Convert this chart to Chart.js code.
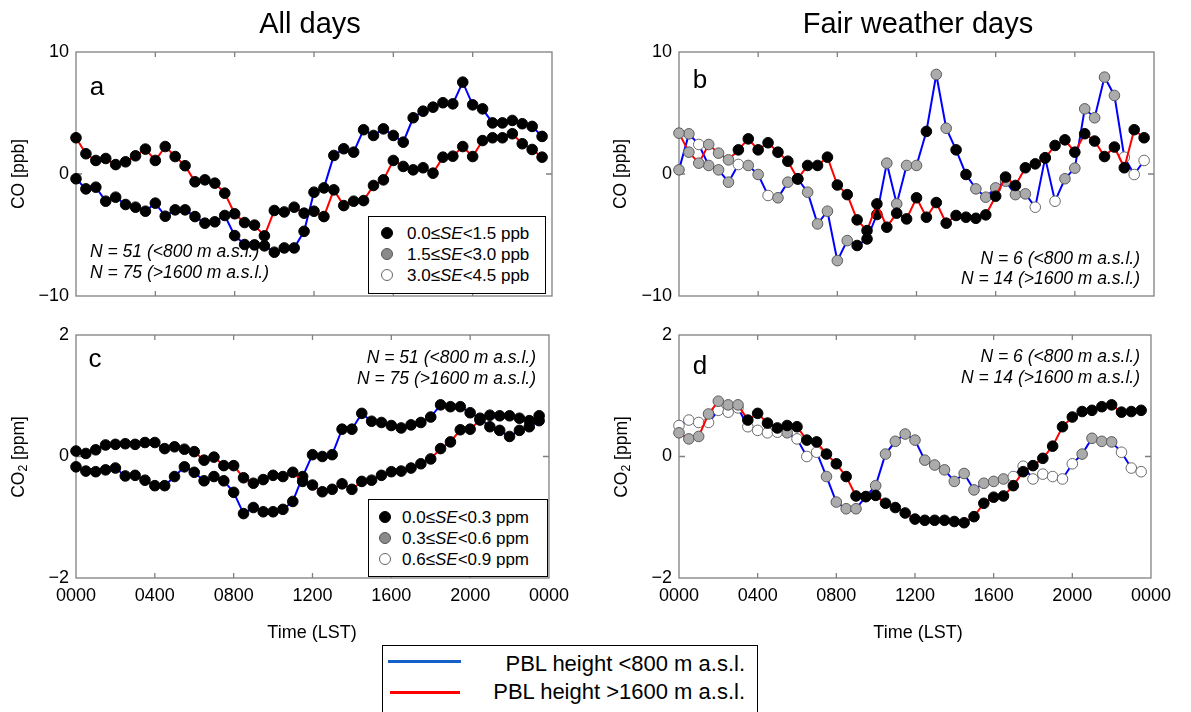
<!DOCTYPE html>
<html>
<head>
<meta charset="utf-8">
<script src="https://cdn.jsdelivr.net/npm/chart.js"></script>
<style>
  body { margin: 0; width: 1191px; height: 712px; overflow: hidden; position: relative; background: #fff;
         font-family: "Liberation Sans", Arial, Helvetica, sans-serif; }
  canvas { position: absolute; }
  .txt { position: absolute; white-space: nowrap; line-height: 1; color: #000; }
  .dot { position: absolute; width: 10px; height: 10px; border-radius: 50%; transform: translate(-50%, -50%); }
  .box { position: absolute; border: 1px solid #000; background: #fff; }
</style>
</head>
<body>
<canvas id="pa" width="576" height="284" style="left:0px;top:32px"></canvas>
<canvas id="pb" width="575" height="284" style="left:603px;top:32px"></canvas>
<canvas id="pc" width="576" height="335" style="left:0px;top:315px"></canvas>
<canvas id="pd" width="575" height="335" style="left:603px;top:315px"></canvas>
<script>
const FONT = '"Liberation Sans", Arial, Helvetica, sans-serif';

// half-hourly time of day (hours)
const hours = [0,0.5,1,1.5,2,2.5,3,3.5,4,4.5,5,5.5,6,6.5,7,7.5,8,8.5,9,9.5,10,10.5,11,11.5,
               12,12.5,13,13.5,14,14.5,15,15.5,16,16.5,17,17.5,18,18.5,19,19.5,20,20.5,21,21.5,22,22.5,23,23.5];
const xTickHours = [0, 4, 8, 12, 16, 20, 24];
const xTickLabels = ['0000', '0400', '0800', '1200', '1600', '2000', '0000'];
const coTicks = [-10, 0, 10];
const co2Ticks = [-2, 0, 2];

// All days, CO [ppb]
const coLowAll = [-0.39,-1.22,-1.08,-2.23,-1.90,-2.50,-2.72,-3.05,-2.39,-3.46,-2.94,-2.94,
                  -3.49,-4.03,-3.92,-3.40,-5.05,-5.78,-5.81,-5.89,-6.41,-6.06,-6.06,-4.70,
                  -1.49,-1.14,1.52,2.07,1.79,3.63,3.16,3.70,3.16,2.61,4.61,5.15,
                  5.48,5.84,5.75,7.53,5.67,5.34,4.19,4.19,4.39,4.12,3.90,3.08];
const coHighAll = [2.97,1.66,1.11,1.27,0.77,1.00,1.49,2.04,1.11,2.25,1.43,0.68,
                   -0.64,-0.48,-0.75,-1.57,-3.26,-3.98,-4.19,-5.07,-2.99,-3.11,-2.72,-3.21,
                   -3.05,-3.49,-1.30,-2.59,-2.23,-2.18,-0.94,-0.48,1.11,0.62,0.34,0.51,
                   0.07,1.38,1.46,2.25,1.43,2.74,2.97,2.97,3.30,2.48,2.01,1.38];

// All days, CO2 [ppm]
const co2LowAll = [-0.17,-0.24,-0.25,-0.22,-0.19,-0.32,-0.31,-0.39,-0.48,-0.48,-0.33,-0.17,
                   -0.26,-0.40,-0.33,-0.40,-0.59,-0.94,-0.84,-0.91,-0.91,-0.87,-0.74,-0.33,
                   0.03,0.00,0.03,0.45,0.45,0.71,0.58,0.56,0.51,0.47,0.52,0.56,
                   0.65,0.85,0.82,0.82,0.72,0.63,0.49,0.43,0.33,0.43,0.49,0.59];
const co2HighAll = [0.09,0.05,0.11,0.19,0.20,0.21,0.20,0.23,0.23,0.13,0.16,0.12,
                    0.08,-0.06,-0.01,-0.15,-0.15,-0.35,-0.44,-0.38,-0.31,-0.33,-0.26,-0.41,
                    -0.47,-0.58,-0.54,-0.45,-0.54,-0.41,-0.39,-0.31,-0.25,-0.24,-0.19,-0.12,
                    -0.04,0.13,0.24,0.44,0.45,0.60,0.68,0.67,0.67,0.63,0.59,0.67];

// Fair weather days, CO [ppb]
const coLowFair = [0.34,3.29,2.42,0.70,0.34,-0.67,0.78,0.70,-0.04,-1.76,-1.95,-0.67,
                   -0.40,-1.49,-4.09,-3.05,-7.10,-5.46,-5.86,-5.32,-3.32,0.89,-2.45,0.70,
                   0.70,3.49,8.16,3.75,1.98,-0.04,-1.22,-1.90,-1.14,-0.59,-1.69,-1.63,
                   -2.72,1.32,-2.23,-0.39,0.48,5.34,4.61,7.94,6.44,1.38,-0.04,1.11];
const coHighFair = [3.35,1.79,0.89,2.42,1.71,1.16,1.98,2.88,1.98,2.56,1.79,1.05,
                    -0.40,0.70,0.70,1.38,-0.90,-1.69,-3.76,-4.64,-2.45,-4.36,-3.21,-3.68,
                    -1.95,-3.54,-2.34,-4.03,-3.40,-3.54,-3.63,-3.35,-1.82,-0.25,-0.94,0.51,
                    0.83,1.32,2.34,2.80,1.79,3.30,2.70,1.43,2.21,0.51,3.63,2.97];
// SE class: 0 = low (black), 1 = mid (grey), 2 = high (white)
const seCoLowFair = [1,1,2,1,1,1,2,1,1,2,1,1, 0,1,1,1,1,1,0,0,0,1,1,1,
                     1,0,1,1,0,0,1,1,1,1,1,1, 2,0,2,1,1,1,1,1,1,2,2,2];
const seCoHighFair = [1,1,1,1,1,1,0,0,0,0,0,0, 0,0,0,0,0,0,0,0,0,0,0,0,
                      0,0,0,0,0,0,0,0,0,0,0,0, 0,0,0,0,0,0,0,0,0,0,0,0];

// Fair weather days, CO2 [ppm]
const co2LowFair = [0.51,0.60,0.56,0.56,0.76,0.73,0.80,0.49,0.43,0.39,0.40,0.39,
                    0.29,0.00,0.07,-0.33,-0.75,-0.86,-0.86,-0.66,-0.48,0.04,0.25,0.37,
                    0.27,-0.06,-0.14,-0.22,-0.41,-0.28,-0.55,-0.44,-0.41,-0.37,-0.33,-0.16,
                    -0.37,-0.29,-0.33,-0.37,-0.12,0.04,0.30,0.25,0.24,0.07,-0.19,-0.25];
const co2HighFair = [0.39,0.29,0.33,0.70,0.91,0.85,0.85,0.60,0.71,0.55,0.47,0.51,
                     0.49,0.27,0.24,0.04,-0.12,-0.33,-0.65,-0.66,-0.64,-0.77,-0.84,-0.93,
                     -1.03,-1.05,-1.05,-1.05,-1.07,-1.09,-0.99,-0.77,-0.67,-0.65,-0.48,-0.25,
                     -0.15,-0.03,0.17,0.49,0.65,0.74,0.76,0.82,0.85,0.73,0.74,0.76];
const seCo2LowFair = [2,2,2,2,2,2,2,2,2,2,2,1, 2,2,2,1,1,1,1,1,1,1,1,1,
                      1,1,1,1,1,1,1,1,1,1,2,2, 2,2,2,2,2,1,1,1,1,2,2,2];
const seCo2HighFair = [1,1,1,1,1,1,1,0,0,0,0,0, 0,0,0,0,0,0,0,0,0,0,0,0,
                       0,0,0,0,0,0,0,0,0,0,0,0, 0,0,0,0,0,0,0,0,0,0,0,0];

const allBlack = new Array(hours.length).fill(0);

const dotFill = ['#000000', '#ababab', '#ffffff'];
const dotEdge = ['#000000', '#5a5a5a', '#6a6a6a'];

function series(values, se, color) {
  return {
    data: values.map((v, i) => ({ x: hours[i], y: v })),
    showLine: true,
    borderColor: color,
    borderWidth: 2,
    pointRadius: 5.3,
    pointBackgroundColor: se.map(k => dotFill[k]),
    pointBorderColor: se.map(k => dotEdge[k]),
    pointBorderWidth: 1,
    clip: false
  };
}

// box around the plot plus short inward ticks, like the original figure
const framePlugin = {
  id: 'frame',
  beforeDatasetsDraw(chart) {
    const { ctx, chartArea: a, scales: { x, y } } = chart;
    ctx.save();
    ctx.strokeStyle = '#808080';
    ctx.lineWidth = 1.3;
    ctx.strokeRect(a.left, a.top, a.right - a.left, a.bottom - a.top);
    ctx.beginPath();
    xTickHours.slice(1, -1).forEach(h => {
      const px = x.getPixelForValue(h);
      ctx.moveTo(px, a.bottom); ctx.lineTo(px, a.bottom - 5);
      ctx.moveTo(px, a.top); ctx.lineTo(px, a.top + 5);
    });
    const py = y.getPixelForValue(0);
    ctx.moveTo(a.left, py); ctx.lineTo(a.left + 6, py);
    ctx.moveTo(a.right, py); ctx.lineTo(a.right - 6, py);
    ctx.stroke();
    ctx.restore();
  }
};

function makePanel(id, low, lowSe, high, highSe, yTicks, bottomRow) {
  new Chart(document.getElementById(id), {
    type: 'scatter',
    data: { datasets: [series(high, highSe, '#ff0000'), series(low, lowSe, '#0000ff')] },
    options: {
      responsive: false,
      animation: false,
      events: [],
      layout: { padding: { top: 20, right: 24, bottom: bottomRow ? 0 : 20, left: 0 } },
      plugins: { legend: { display: false }, tooltip: { enabled: false } },
      scales: {
        x: {
          type: 'linear', min: 0, max: 24, display: bottomRow,
          grid: { display: false, drawTicks: false }, border: { display: false },
          afterBuildTicks: s => { s.ticks = xTickHours.map(v => ({ value: v })); },
          ticks: { callback: (v, i) => xTickLabels[i], color: '#000', padding: 7,
                   font: { size: 18, family: FONT }, maxRotation: 0, autoSkip: false },
          afterFit: s => { s.height = bottomRow ? 72 : 0; }
        },
        y: {
          min: yTicks[0], max: yTicks[yTicks.length - 1],
          grid: { display: false, drawTicks: false }, border: { display: false },
          afterBuildTicks: s => { s.ticks = yTicks.map(v => ({ value: v })); },
          ticks: { callback: v => v < 0 ? '\u2212' + Math.abs(v) : String(v), color: '#000', padding: 7,
                   font: { size: 18, family: FONT } },
          afterFit: s => { s.width = 76; }
        }
      }
    },
    plugins: [framePlugin]
  });
}

makePanel('pa', coLowAll, allBlack, coHighAll, allBlack, coTicks, false);
makePanel('pb', coLowFair, seCoLowFair, coHighFair, seCoHighFair, coTicks, false);
makePanel('pc', co2LowAll, allBlack, co2HighAll, allBlack, co2Ticks, true);
makePanel('pd', co2LowFair, seCo2LowFair, co2HighFair, seCo2HighFair, co2Ticks, true);

// ---- text and legends ----
function put(html, x, y, size, align, extra) {
  const d = document.createElement('div');
  d.className = 'txt';
  d.innerHTML = html;
  d.style.left = x + 'px';
  d.style.top = y + 'px';
  d.style.fontSize = size + 'px';
  const ax = align === 'left' ? '0' : align === 'right' ? '-100%' : '-50%';
  d.style.transform = 'translate(' + ax + ', -50%)' + (extra && extra.rotate ? ' rotate(-90deg)' : '');
  if (extra && extra.italic) d.style.fontStyle = 'italic';
  document.body.appendChild(d);
  return d;
}
function dot(x, y, k, fill) {
  const d = document.createElement('div');
  d.className = 'dot';
  d.style.left = x + 'px';
  d.style.top = y + 'px';
  d.style.background = fill;
  d.style.border = '1px solid ' + ['#000', '#555', '#666'][k];
  document.body.appendChild(d);
}
function box(x, y, w, h) {
  const d = document.createElement('div');
  d.className = 'box';
  d.style.left = x + 'px'; d.style.top = y + 'px';
  d.style.width = w + 'px'; d.style.height = h + 'px';
  document.body.appendChild(d);
}

put('All days', 310, 23, 29, 'center');
put('Fair weather days', 918, 23, 29, 'center');

put('CO [ppb]', 19, 174, 17.5, 'center', { rotate: true });
put('CO [ppb]', 621, 174, 17.5, 'center', { rotate: true });
put('CO<sub style="font-size:0.7em;vertical-align:-0.25em">2</sub> [ppm]', 20, 457, 17.5, 'center', { rotate: true });
put('CO<sub style="font-size:0.7em;vertical-align:-0.25em">2</sub> [ppm]', 623, 457, 17.5, 'center', { rotate: true });

put('Time (LST)', 312, 632, 18, 'center');
put('Time (LST)', 918, 632, 18, 'center');

put('a', 97, 86, 26, 'center');
put('b', 700, 79, 26, 'center');
put('c', 95, 358, 26, 'center');
put('d', 700, 365, 26, 'center');

const nLines = {
  all: ['N = 51 (&lt;800 m a.s.l.)', 'N = 75 (&gt;1600 m a.s.l.)'],
  fair: ['N = 6 (&lt;800 m a.s.l.)', 'N = 14 (&gt;1600 m a.s.l.)']
};
put(nLines.all[0], 90, 252, 17.5, 'left', { italic: true });
put(nLines.all[1], 90, 273, 17.5, 'left', { italic: true });
put(nLines.fair[0], 1140, 259, 17.5, 'right', { italic: true });
put(nLines.fair[1], 1140, 279, 17.5, 'right', { italic: true });
put(nLines.all[0], 536, 358, 17.5, 'right', { italic: true });
put(nLines.all[1], 536, 379, 17.5, 'right', { italic: true });
put(nLines.fair[0], 1140, 357, 17.5, 'right', { italic: true });
put(nLines.fair[1], 1140, 378, 17.5, 'right', { italic: true });

// SE legends
const seCo = ['0.0\u2264<i>SE</i>&lt;1.5 ppb', '1.5\u2264<i>SE</i>&lt;3.0 ppb', '3.0\u2264<i>SE</i>&lt;4.5 ppb'];
const seCo2 = ['0.0\u2264<i>SE</i>&lt;0.3 ppm', '0.3\u2264<i>SE</i>&lt;0.6 ppm', '0.6\u2264<i>SE</i>&lt;0.9 ppm'];
const legendFill = ['#000000', '#8a8a8a', '#ffffff'];
box(368, 216, 176, 76);
[233, 254, 275].forEach((yy, k) => { dot(387, yy, k, legendFill[k]); put(seCo[k], 407, yy, 17, 'left'); });
box(368, 499, 178, 76);
[517, 538, 559].forEach((yy, k) => { dot(385, yy, k, legendFill[k]); put(seCo2[k], 402, yy, 17, 'left'); });

// line legend at the bottom
box(382, 645, 374, 90);
const lineLegend = document.createElement('div');
lineLegend.innerHTML =
  '<div style="position:absolute;left:388px;top:660px;width:73px;height:3px;background:#1560c8"></div>' +
  '<div style="position:absolute;left:390px;top:691px;width:70px;height:3px;background:#ff0000"></div>';
document.body.appendChild(lineLegend);
put('PBL height &lt;800 m a.s.l.', 745, 664, 22, 'right');
put('PBL height &gt;1600 m a.s.l.', 745, 692, 22, 'right');
</script>
</body>
</html>
